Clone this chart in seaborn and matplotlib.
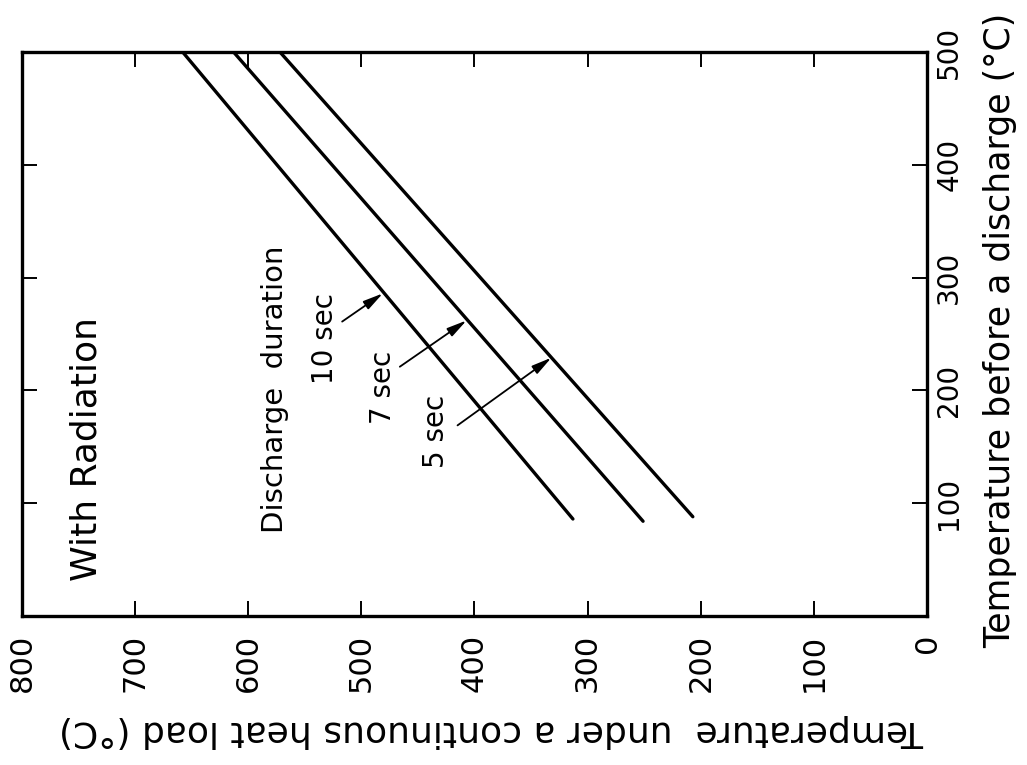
import matplotlib
matplotlib.use("Agg")
import matplotlib.pyplot as plt
import pandas as pd
import seaborn as sns

# Discharge durations and the end points of each straight line
durations = ["10 sec", "7 sec", "5 sec"]
before_start = [86, 84, 88]      # temperature before a discharge (°C)
before_end = [500, 500, 500]
heat_start = [313, 251, 207]     # temperature under a continuous heat load (°C)
heat_end = [658, 613, 572]

# Axis ticks
heat_ticks = [0, 100, 200, 300, 400, 500, 600, 700, 800]
heat_ticklabels = ["0", "100", "200", "300", "400", "500", "600", "700", "800"]
before_ticks = [0, 100, 200, 300, 400, 500]
before_ticklabels = ["", "100", "200", "300", "400", "500"]

# Labels pointing at each line: (label, text position, arrow tail, arrow head)
label_text = ["10 sec", "7 sec", "5 sec"]
label_heat = [532, 481, 434]
label_before = [246, 203, 164]
arrow_tail_heat = [517, 466, 415]
arrow_tail_before = [261, 221, 169]
arrow_head_heat = [481, 407, 332]
arrow_head_before = [286, 262, 229]

rows = []
for d, b0, b1, h0, h1 in zip(durations, before_start, before_end, heat_start, heat_end):
    rows.append({"duration": d, "before": b0, "heat": h0})
    rows.append({"duration": d, "before": b1, "heat": h1})
df = pd.DataFrame(rows)

sns.set_theme(style="ticks")
plt.rcParams["font.family"] = ["DejaVu Sans"]
plt.rcParams["text.color"] = "black"
plt.rcParams["xtick.color"] = "black"
plt.rcParams["ytick.color"] = "black"
plt.rcParams["xtick.labelcolor"] = "black"
plt.rcParams["ytick.labelcolor"] = "black"

fig = plt.figure(figsize=(10.27, 7.65), dpi=100)
fig.patch.set_facecolor("white")
ax = fig.add_axes([22 / 1027, 1 - 616 / 765, 905 / 1027, 564 / 765])
ax.set_facecolor("white")

# The chart is drawn turned a quarter turn: heat load runs right-to-left
# along the bottom, pre-discharge temperature runs up the right side.
sns.lineplot(data=df, x="heat", y="before", units="duration", estimator=None,
             sort=False, color="black", linewidth=2.4, legend=False, ax=ax)

ax.set_xlim(800, 0)
ax.set_ylim(0, 500)

for s in ax.spines.values():
    s.set_linewidth(2.4)
    s.set_color("black")

ax.tick_params(direction="in", length=11, width=1.4, color="black",
               labelcolor="black",
               top=True, bottom=True, left=True, right=True,
               labelleft=False, labelright=True, labeltop=False, labelbottom=True)
ax.tick_params(axis="x", pad=13)
ax.tick_params(axis="y", pad=6)

ax.set_xticks(heat_ticks)
ax.set_xticklabels(heat_ticklabels, rotation=90, fontsize=22, ha="center", va="top")
ax.set_yticks(before_ticks)
ax.set_yticklabels(before_ticklabels, rotation=90, fontsize=20, ha="left", va="center")

ax.set_xlabel("")
ax.set_ylabel("")

fig.text(492 / 1027, 1 - 731 / 765, "Temperature  under a continuous heat load (°C)",
         rotation=180, fontsize=26, ha="center", va="center")
fig.text(1000 / 1027, 1 - 330 / 765, "Temperature before a discharge (°C)",
         rotation=90, fontsize=25, ha="center", va="center")

ax.text(743, 148, "With Radiation", rotation=90, fontsize=26,
        ha="center", va="center")
ax.text(576, 201, "Discharge  duration", rotation=90, fontsize=21,
        ha="center", va="center")

for t, hx, by, tx, ty, px, py in zip(label_text, label_heat, label_before,
                                      arrow_tail_heat, arrow_tail_before,
                                      arrow_head_heat, arrow_head_before):
    ax.text(hx, by, t, rotation=90, fontsize=20, ha="center", va="center")
    ax.annotate("", xy=(px, py), xytext=(tx, ty),
                arrowprops=dict(arrowstyle="-|>,head_length=0.75,head_width=0.18",
                                color="black", lw=1.3, shrinkA=0, shrinkB=0,
                                mutation_scale=16))

fig.savefig("out.png", dpi=100, facecolor="white")
